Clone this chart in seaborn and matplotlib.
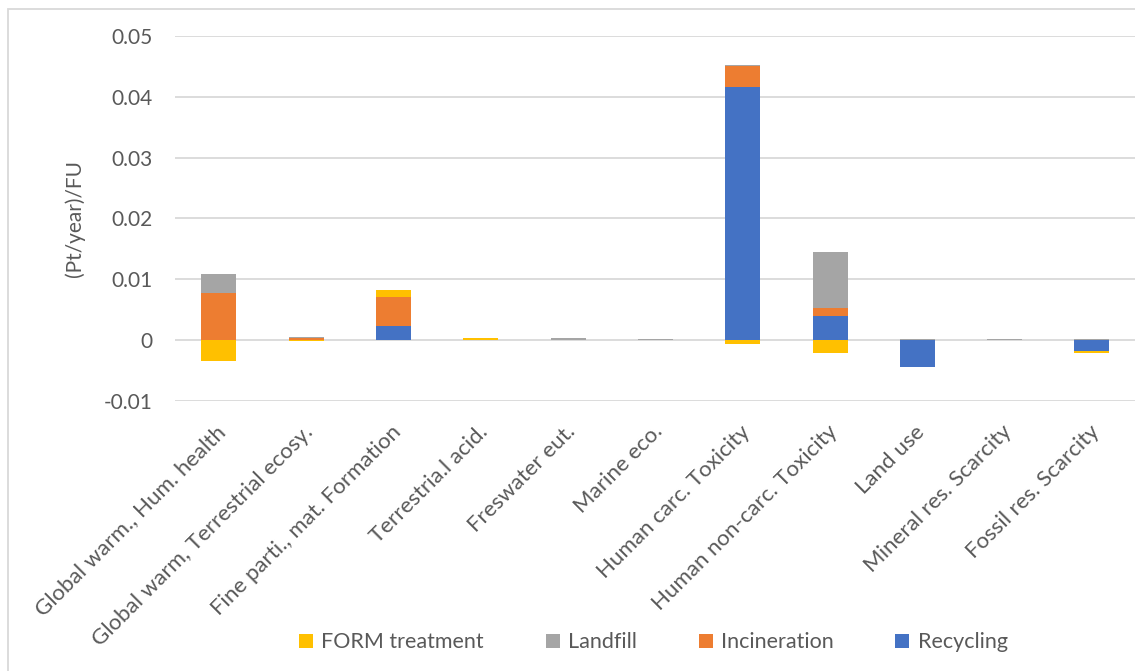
import matplotlib
matplotlib.use("Agg")
import matplotlib.pyplot as plt
import matplotlib.transforms as mtransforms
from matplotlib.lines import Line2D
from matplotlib.patches import Rectangle
import numpy as np
import pandas as pd
import seaborn as sns

categories = [
    "Global warm., Hum. health",
    "Global warm, Terrestrial ecosy.",
    "Fine parti., mat. Formation",
    "Terrestria.l acid.",
    "Freswater eut.",
    "Marine eco.",
    "Human carc. Toxicity",
    "Human non-carc. Toxicity",
    "Land use",
    "Mineral res. Scarcity",
    "Fossil res. Scarcity",
]

recycling = [0.0, 0.0, 0.0023, 0.0, 0.0, 0.0, 0.0416, 0.0040, -0.0044, 0.0, -0.0018]
incineration = [0.0078, 0.0004, 0.0047, 0.0, 0.0, 0.0, 0.0035, 0.0012, 0.0, 0.0, 0.0]
landfill = [0.0031, 0.00005, 0.0, 0.0, 0.0003, 0.0001, 0.0002, 0.0093, 0.0001, 0.0001, 0.0001]
form_treatment = [-0.0034, -0.0001, 0.0012, 0.0003, 0.0, 0.0, -0.0007, -0.0021, 0.0, 0.0, -0.0003]

# stacking order from the axis outwards
series = [
    ("Recycling", recycling, "#4472C4"),
    ("Incineration", incineration, "#ED7D31"),
    ("Landfill", landfill, "#A5A5A5"),
    ("FORM treatment", form_treatment, "#FFC000"),
]
legend_order = ["FORM treatment", "Landfill", "Incineration", "Recycling"]

y_ticks = [-0.01, 0, 0.01, 0.02, 0.03, 0.04, 0.05]
y_ticklabels = ["-0.01", "0", "0.01", "0.02", "0.03", "0.04", "0.05"]

sns.set_theme(style="white")
plt.rcParams["font.family"] = ["Lato", "DejaVu Sans"]
text_color = "#595959"
grid_color = "#D9D9D9"

fig = plt.figure(figsize=(11.35, 6.71), dpi=100)
W, H = 1135, 671
ax = fig.add_axes([175.3 / W, 1 - 400.8 / H, 960.3 / W, (400.8 - 36) / H])

pos_base = np.zeros(len(categories))
neg_base = np.zeros(len(categories))
for name, vals, color in series:
    vals = np.asarray(vals, dtype=float)
    bottom = np.where(vals >= 0, pos_base, neg_base)
    df = pd.DataFrame({"category": categories, "value": vals})
    sns.barplot(data=df, x="category", y="value", order=categories,
                color=color, saturation=1, width=0.4, bottom=bottom,
                linewidth=0, errorbar=None, ax=ax, zorder=3)
    pos_base = pos_base + np.where(vals >= 0, vals, 0)
    neg_base = neg_base + np.where(vals < 0, vals, 0)

ax.set_xlim(-0.5, len(categories) - 0.5)
ax.set_ylim(-0.01, 0.05)
ax.set_yticks(y_ticks)
ax.set_yticklabels(y_ticklabels)
ax.yaxis.grid(True, color=grid_color, linewidth=1.3, zorder=0)
ax.xaxis.grid(False)
for s in ax.spines.values():
    s.set_visible(False)

ax.tick_params(axis="y", length=0, pad=16.5, labelsize=15, labelcolor=text_color)
ax.tick_params(axis="x", length=0, pad=20, labelsize=16, labelcolor=text_color)
shift = mtransforms.ScaledTranslation(4 / 100, 0, fig.dpi_scale_trans)
for lab in ax.get_xticklabels():
    lab.set_rotation(45)
    lab.set_ha("right")
    lab.set_va("center")
    lab.set_rotation_mode("anchor")
    lab.set_transform(lab.get_transform() + shift)

ax.set_xlabel("")
ax.set_ylabel("(Pt/year)/FU", fontsize=15, color=text_color)
ax.yaxis.set_label_coords(-90 / 960.3, 0.5)

colors = {name: color for name, _, color in series}
handles = [Line2D([], [], marker="s", linestyle="none", markersize=10,
                  markerfacecolor=colors[n], markeredgewidth=0) for n in legend_order]
leg = fig.legend(handles, legend_order, loc="center", bbox_to_anchor=(0.575, 0.043),
                 ncol=4, frameon=False, fontsize=15.5, handlelength=0.8,
                 handletextpad=0.3, columnspacing=2.8)
for t in leg.get_texts():
    t.set_color(text_color)

fig.patches.append(Rectangle((8 / W, -0.1), 1.2, 1 - 9 / H + 0.1,
                             transform=fig.transFigure, fill=False,
                             edgecolor=grid_color, linewidth=1.3))

fig.savefig("out.png", dpi=100)
